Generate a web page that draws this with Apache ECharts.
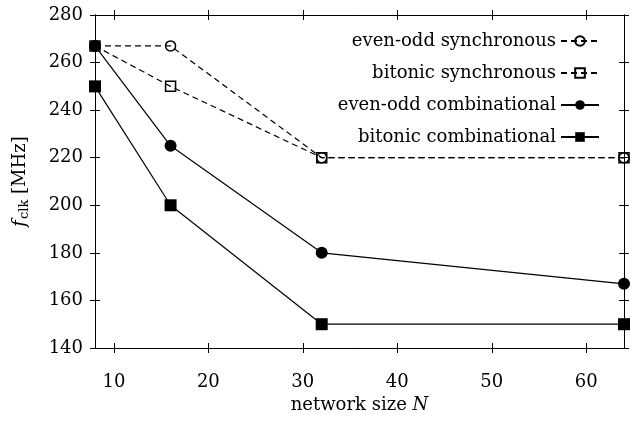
<!DOCTYPE html>
<html>
<head>
<meta charset="utf-8">
<script src="https://cdn.jsdelivr.net/npm/echarts@6/dist/echarts.min.js"></script>
<style>
  html, body { margin: 0; padding: 0; background: #fff; }
  #chart { width: 635px; height: 428px; }
</style>
</head>
<body>
<div id="chart"></div>
<script>
// Network sizes and clock frequencies (MHz)
const networkSizes = [8, 16, 32, 64];
const evenOddSync = [267, 267, 220, 220];
const bitonicSync = [267, 250, 220, 220];
const evenOddComb = [267, 225, 180, 167];
const bitonicComb = [250, 200, 150, 150];
const xTickValues = [10, 20, 30, 40, 50, 60];

const FONT = 'DejaVu Serif';
const BLACK = '#000';

function pairs(ys) {
  return networkSizes.map((x, i) => [x, ys[i]]);
}

// one axis per side draws the outer tick half, a twin draws the inner half
function xAx(pos, inside, withLabels) {
  return {
    type: 'value', position: pos, min: 8, max: 64,
    axisLine: { show: true, onZero: false, lineStyle: { color: BLACK, width: 1 } },
    axisTick: { show: true, inside: inside, length: 5, customValues: xTickValues, lineStyle: { color: BLACK, width: 1 } },
    axisLabel: withLabels ? { show: true, customValues: xTickValues, margin: 25, color: BLACK, fontFamily: FONT, fontSize: 18 } : { show: false },
    splitLine: { show: false }
  };
}
function yAx(pos, inside, withLabels) {
  return {
    type: 'value', position: pos, min: 140, max: 280, interval: 20,
    axisLine: { show: true, onZero: false, lineStyle: { color: BLACK, width: 1 } },
    axisTick: { show: true, inside: inside, length: 5, lineStyle: { color: BLACK, width: 1 } },
    axisLabel: withLabels ? { show: true, margin: 12, color: BLACK, fontFamily: FONT, fontSize: 18 } : { show: false },
    splitLine: { show: false }
  };
}

const xAxes = [xAx('bottom', false, true), xAx('bottom', true, false), xAx('top', false, false), xAx('top', true, false)];
xAxes[0].name = 'network size {i|N}';
xAxes[0].nameLocation = 'middle';
xAxes[0].nameGap = 48;
xAxes[0].nameTextStyle = {
  color: BLACK, fontFamily: FONT, fontSize: 18, verticalAlign: 'top',
  rich: { i: { fontFamily: FONT, fontSize: 18, fontStyle: 'italic', color: BLACK } }
};

const yAxes = [yAx('left', false, true), yAx('left', true, false), yAx('right', false, false), yAx('right', true, false)];
yAxes[0].name = '{i|f}{s|clk} [MHz]';
yAxes[0].nameLocation = 'middle';
yAxes[0].nameGap = 64;
yAxes[0].nameTextStyle = {
  color: BLACK, fontFamily: FONT, fontSize: 18,
  rich: {
    i: { fontFamily: FONT, fontSize: 18, fontStyle: 'italic', color: BLACK, lineHeight: 22 },
    s: { fontFamily: FONT, fontSize: 13, color: BLACK, lineHeight: 22, padding: [9, 0, 0, 1] }
  }
};

function seriesOf(name, data, symbol, size, hollow, dashed) {
  return {
    name: name, type: 'line', data: pairs(data),
    xAxisIndex: 0, yAxisIndex: 0,
    symbol: symbol, symbolSize: size, showSymbol: true,
    lineStyle: { color: BLACK, width: 1.2, type: dashed ? [6, 4] : 'solid' },
    itemStyle: hollow ? { color: 'rgba(255,255,255,0)', borderColor: BLACK, borderWidth: 1.5 }
                      : { color: BLACK, borderColor: BLACK, borderWidth: 0 },
    emphasis: { disabled: true },
    animation: false
  };
}

const series = [
  seriesOf('even-odd combinational', evenOddComb, 'circle', 12, false, false),
  seriesOf('bitonic combinational', bitonicComb, 'rect', 12, false, false),
  seriesOf('even-odd synchronous', evenOddSync, 'circle', 10, true, true),
  seriesOf('bitonic synchronous', bitonicSync, 'rect', 10, true, true)
];

const chart = echarts.init(document.getElementById('chart'), null, { renderer: 'canvas' });
chart.setOption({
  animation: false,
  backgroundColor: '#fff',
  grid: { left: 95, right: 11, top: 15, bottom: 80, containLabel: false },
  xAxis: xAxes,
  yAxis: yAxes,
  legend: {
    data: ['even-odd synchronous', 'bitonic synchronous', 'even-odd combinational', 'bitonic combinational'],
    orient: 'vertical', right: 30, top: 27, align: 'right',
    itemWidth: 38, itemHeight: 12, itemGap: 14,
    textStyle: { color: BLACK, fontFamily: FONT, fontSize: 18, lineHeight: 18 },
    selectedMode: false
  },
  series: series
});
</script>
</body>
</html>
